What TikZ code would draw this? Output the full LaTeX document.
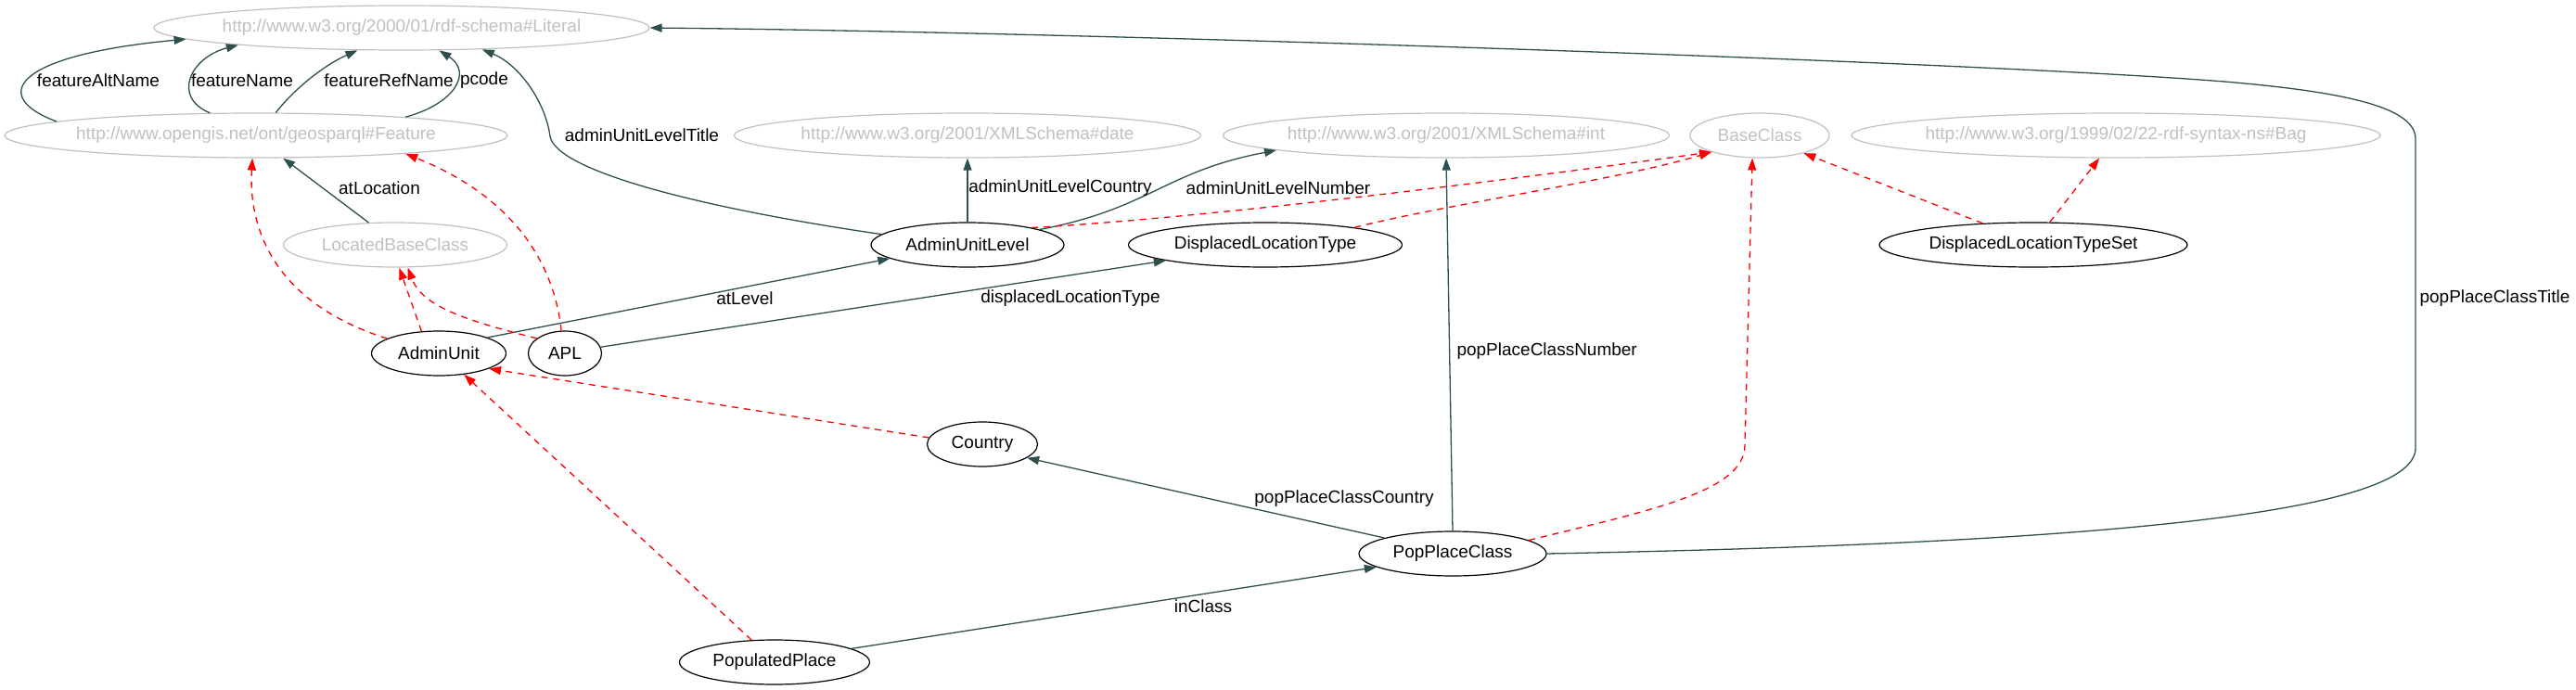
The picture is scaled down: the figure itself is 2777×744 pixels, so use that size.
\documentclass[tikz,border=0pt]{standalone}
\usepackage{fontspec}
\setmainfont{Liberation Sans}
\usetikzlibrary{shapes.geometric,arrows.meta}
\definecolor{extgray}{HTML}{C0C0C0}
\definecolor{edgegray}{HTML}{2F4F4F}

\begin{document}
\begin{tikzpicture}[x=1pt,y=-1pt,font=\fontsize{19}{22}\selectfont,
  cls/.style={draw, ellipse, line width=1.2pt, minimum height=48pt, inner xsep=-6pt, inner ysep=0pt},
  ext/.style={cls, draw=extgray, text=extgray},
  rel/.style={draw=edgegray, line width=1.3pt, -{Triangle[length=13pt,width=9pt]}},
  sub/.style={draw=red, line width=1.3pt, dash pattern=on 7pt off 6pt, -{Triangle[length=13pt,width=9pt]}}]
\useasboundingbox (0,0) rectangle (2777,744);

\node[ext, minimum width=534pt] (literal) at (433,30) {http://www.w3.org/2000/01/rdf-schema\#Literal};
\node[ext, minimum width=542pt] (feature) at (276,146) {http://www.opengis.net/ont/geosparql\#Feature};
\node[ext, minimum width=503pt] (date) at (1043,146) {http://www.w3.org/2001/XMLSchema\#date};
\node[ext, minimum width=481pt] (int) at (1559,146) {http://www.w3.org/2001/XMLSchema\#int};
\node[ext, minimum width=150pt] (baseclass) at (1897,146) {BaseClass};
\node[ext, minimum width=570pt] (bag) at (2281,146) {http://www.w3.org/1999/02/22-rdf-syntax-ns\#Bag};
\node[ext, minimum width=241pt] (located) at (426,264) {LocatedBaseClass};
\node[cls, minimum width=208pt] (aul) at (1043,264) {AdminUnitLevel};
\node[cls, minimum width=295pt] (dlt) at (1364,264) {DisplacedLocationType};
\node[cls, minimum width=332pt] (dlts) at (2192,264) {DisplacedLocationTypeSet};
\node[cls, minimum width=145pt] (adminunit) at (473,381) {AdminUnit};
\node[cls, minimum width=79pt] (apl) at (609,381) {APL};
\node[cls, minimum width=119pt] (country) at (1059,479) {Country};
\node[cls, minimum width=202pt] (ppc) at (1566,597) {PopPlaceClass};
\node[cls, minimum width=205pt] (pp) at (835,714) {PopulatedPlace};

\path[rel] (feature.176) .. controls (-10,105) and (10,60) .. (literal.183.5);
\path[rel] (feature.154) .. controls (185,105) and (205,62) .. (literal.186.5);
\path[rel] (feature.49) .. controls (318,95) and (350,70) .. (literal.207);
\path[rel] (feature.7) .. controls (490,112) and (510,78) .. (literal.-31);
\path[rel] (aul.173) .. controls (760,225) and (600,185) .. (593,147) .. controls (588,110) and (560,70) .. (literal.-15);
\path[rel] (aul) -- (date);
\path[rel] (aul.12) .. controls (1240,225) and (1255,185) .. (int.185.7);
\path[rel] (adminunit.18) -- (aul.190.6);
\path[rel] (apl.10) -- (dlt.189.7);
\path[rel] (located.140) -- (feature.-40.8);
\path[rel] (ppc.167) -- (country.-17);
\path[rel] (pp.10.7) -- (ppc.190);
\path[rel] (ppc.north) -- (int.south);
\path[rel] (ppc.east) .. controls (2300,585) and (2604,550) .. (2604,483) -- (2604,150) .. controls (2604,118) and (2540,100) .. (2398,88) .. controls (2150,68) and (1200,35) .. (literal.east);

\path[sub] (adminunit.164.6) .. controls (290,325) and (268,240) .. (feature.-99);
\path[sub] (adminunit.128) -- (located.-80.5);
\path[sub] (apl.152.7) .. controls (500,345) and (455,330) .. (located.-61.6);
\path[sub] (apl.99.5) .. controls (598,290) and (560,215) .. (feature.-7.3);
\path[sub] (country.173) -- (adminunit.-17.5);
\path[sub] (pp.136) -- (adminunit.-40.6);
\path[sub] (aul.15) .. controls (1300,235) and (1620,195) .. (baseclass.199);
\path[sub] (dlt.11.4) .. controls (1560,220) and (1740,195) .. (baseclass.199);
\path[sub] (ppc.10) .. controls (1780,550) and (1881,530) .. (1881,480) -- (baseclass.-108);
\path[sub] (dlts.157) -- (baseclass.-22.6);
\path[sub] (dlts.54) -- (bag.234.7);

\node (altname) at (106,87) {featureAltName};
\node (name) at (261,87) {featureName};
\node (refname) at (419,87) {featureRefName};
\node (pcode) at (522,87) {pcode};
\node (title) at (692,146) {adminUnitLevelTitle};
\node (levelcountry) at (1143,203) {adminUnitLevelCountry};
\node (levelnumber) at (1378,203) {adminUnitLevelNumber};
\node (atlocation) at (409,203) {atLocation};
\node (atlevel) at (803,322) {atLevel};
\node (dltype) at (1154,322) {displacedLocationType};
\node[anchor=west] (classnumber) at (1567,379) {popPlaceClassNumber};
\node[anchor=west] (classtitle) at (2605,322) {popPlaceClassTitle};
\node (classcountry) at (1449,538) {popPlaceClassCountry};
\node (inclass) at (1297,654) {inClass};
\end{tikzpicture}
\end{document}
